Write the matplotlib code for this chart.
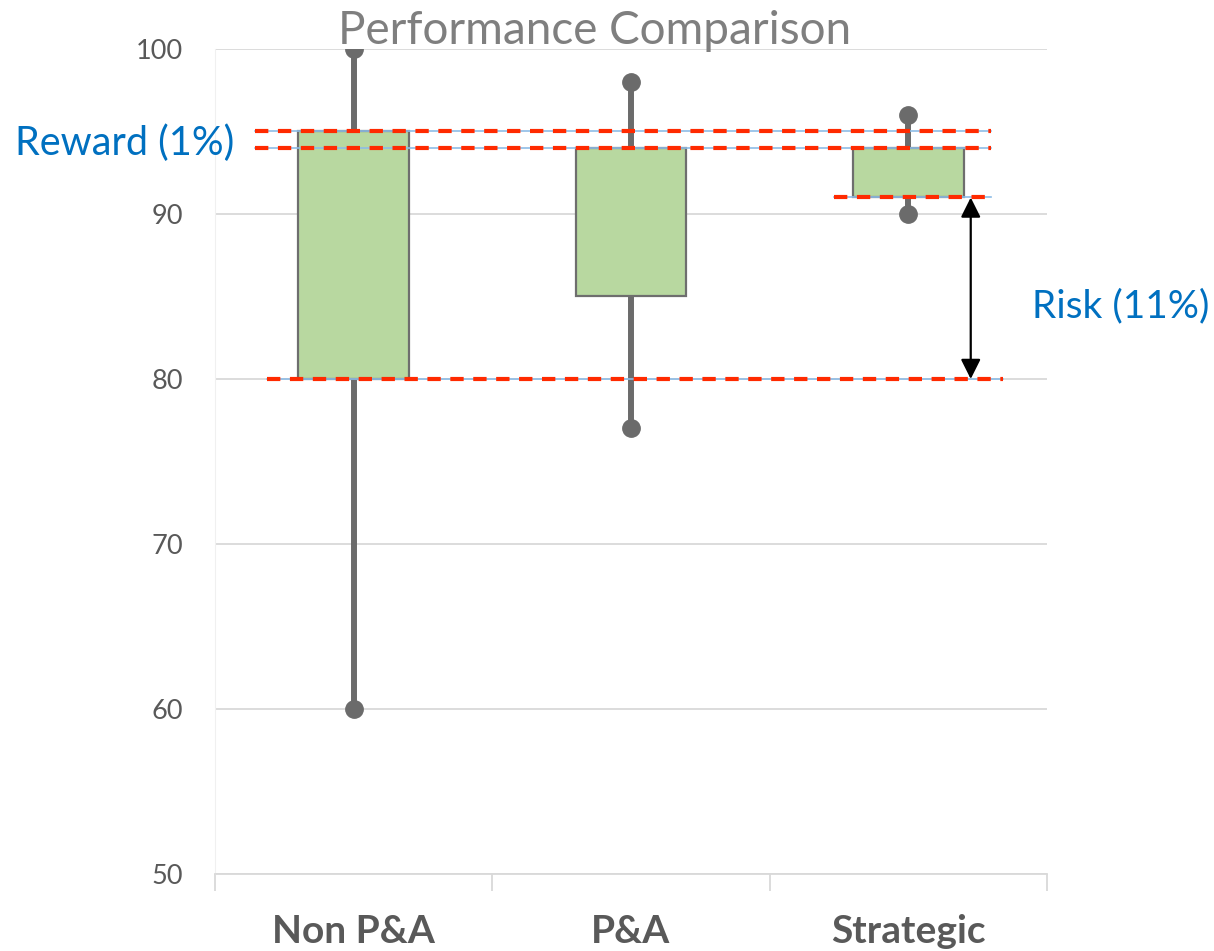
import matplotlib
matplotlib.use("Agg")
import matplotlib.pyplot as plt
from matplotlib.transforms import blended_transform_factory

plt.rcParams["font.family"] = ["Lato", "DejaVu Sans"]

# --- data ---
categories = ["Non P&A", "P&A", "Strategic"]
q1 = [80, 85, 91]
q3 = [95, 94, 94]
whisker_lo = [60, 77, 90]
whisker_hi = [100, 98, 96]

# reference levels (dashed) and their x extents in category units
ref_levels = [95, 94, 91, 80]
ref_x0 = [-0.356, -0.356, 1.732, -0.312]
ref_x1 = [2.298, 2.298, 2.298, 2.342]

risk_x = 2.225
risk_from, risk_to = 91, 80

fig = plt.figure(figsize=(12.14, 9.51), dpi=100)
ax = fig.add_axes([215 / 1214, 1 - 874 / 951, (1047 - 215) / 1214, (874 - 49) / 951])

x = range(len(categories))

# whiskers behind boxes
for i in x:
    ax.vlines(i, whisker_lo[i], whisker_hi[i], color="#6b6b6b", lw=4.3, zorder=2)
    ax.plot([i, i], [whisker_lo[i], whisker_hi[i]], "o", color="#6b6b6b",
            markersize=12.5, zorder=3)

heights = [b - a for a, b in zip(q1, q3)]
ax.bar(list(x), heights, bottom=q1, width=0.4, color="#b8d8a0",
       edgecolor="#6e6e6e", linewidth=1.6, zorder=4)

# reference lines: thin blue under red dashed
for y, a, b in zip(ref_levels, ref_x0, ref_x1):
    ax.plot([a, b], [y, y], color="#8dbce6", lw=1.2, zorder=5, clip_on=False)
    ax.plot([a, b], [y, y], color="#ff2a00", lw=3, dashes=(3.2, 2.3),
            zorder=6, clip_on=False)

ax.annotate("", xy=(risk_x, risk_to), xytext=(risk_x, risk_from),
            arrowprops=dict(arrowstyle="<|-|>", color="black", lw=1.6,
                            mutation_scale=30, shrinkA=0, shrinkB=0),
            zorder=7)

ax.set_xlim(-0.5, 2.5)
ax.set_ylim(50, 100)
ax.set_yticks(range(50, 101, 10))
ax.grid(axis="y", color="#d9d9d9", lw=1.3, zorder=0)
ax.set_axisbelow(True)

ax.set_xticks(list(x))
ax.set_xticklabels(categories, fontsize=28, fontweight="bold", color="#595959")
ax.set_xticks([-0.5, 0.5, 1.5, 2.5], minor=True)
ax.tick_params(axis="x", which="major", length=0, pad=29)
ax.tick_params(axis="x", which="minor", length=12, color="#d9d9d9", width=1.3)
ax.tick_params(axis="y", length=0, labelsize=19.5, labelcolor="#595959", pad=23)

for s in ["top", "right"]:
    ax.spines[s].set_visible(False)
ax.spines["left"].set_color("#f0f0f0")
ax.spines["bottom"].set_color("#d9d9d9")
ax.spines["bottom"].set_linewidth(1.3)

fig.text(595 / 1214, 1 - 31 / 951, "Performance Comparison", ha="center",
         va="center", fontsize=33, color="#7f7f7f")

trans = blended_transform_factory(fig.transFigure, ax.transData)
fig.text(15 / 1214, 94.3, "Reward (1%)", transform=trans, ha="left",
         va="center", fontsize=28.5, color="#0070c0")
fig.text(1032 / 1214, 84.4, "Risk (11%)", transform=trans, ha="left",
         va="center", fontsize=28, color="#0070c0")

fig.savefig("out.png", dpi=100)
